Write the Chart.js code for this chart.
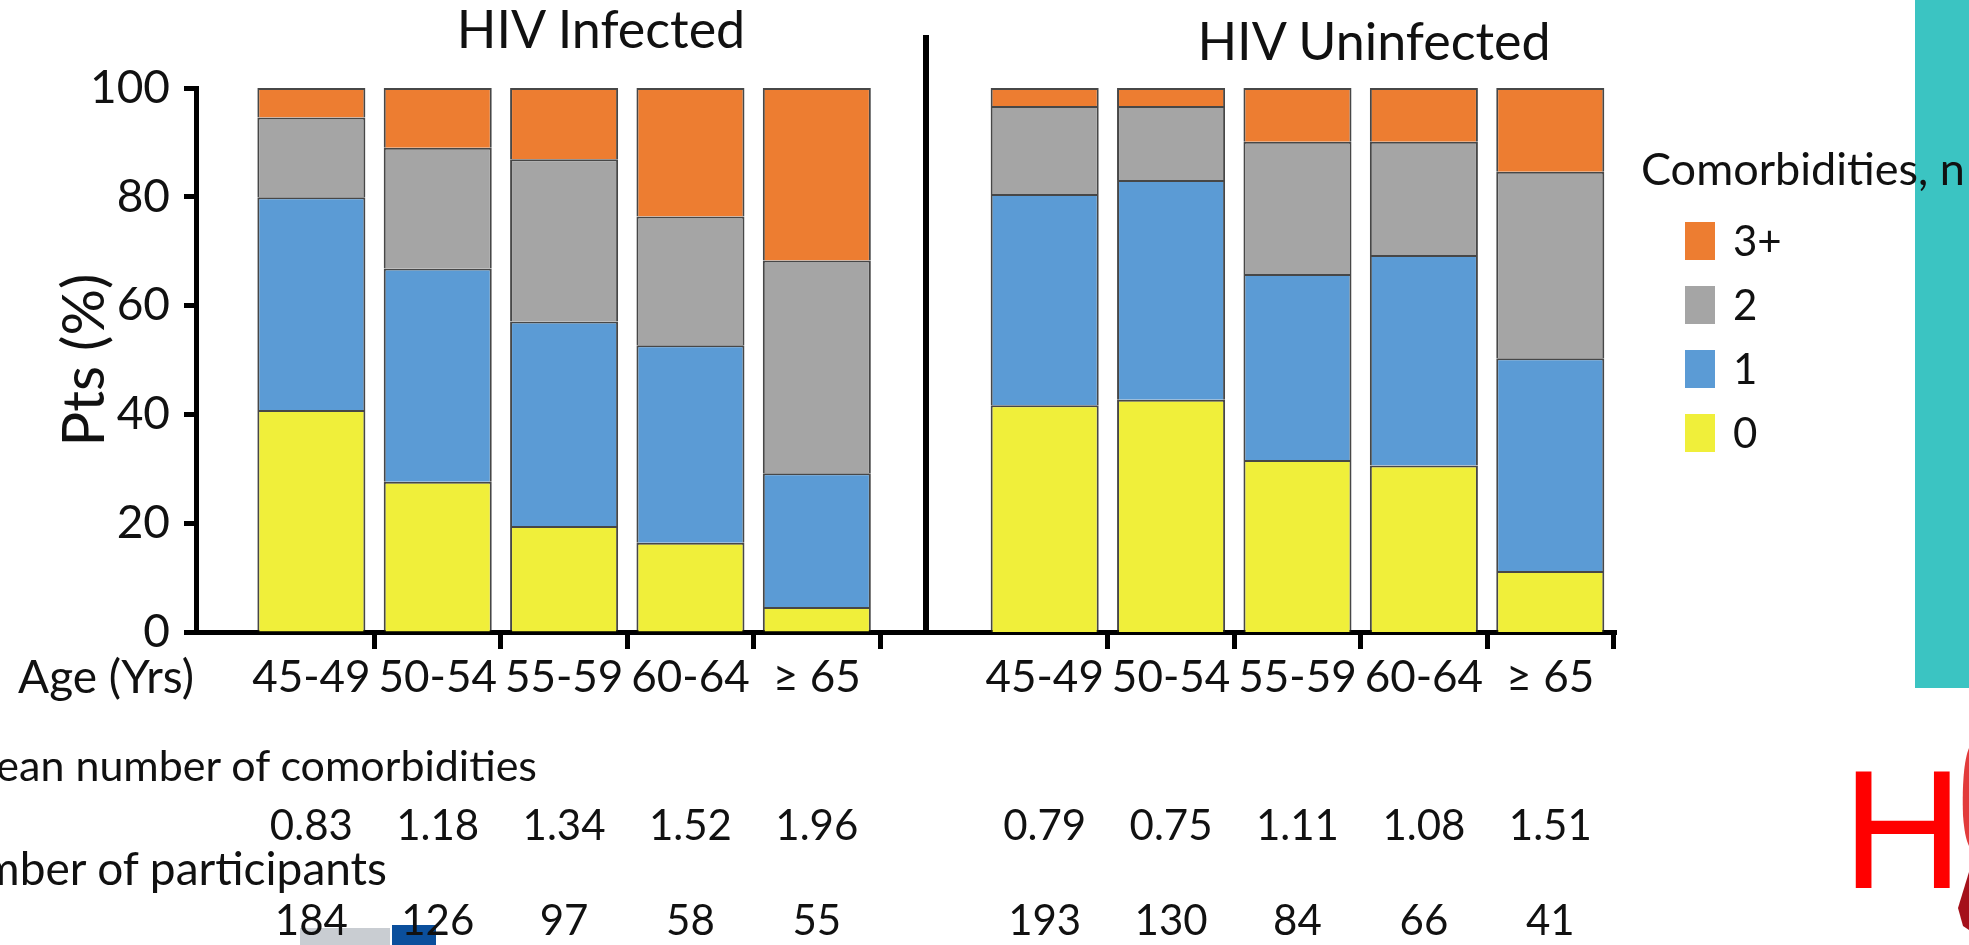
<!DOCTYPE html>
<html>
<head>
<meta charset="utf-8">
<title>Comorbidities by age and HIV status</title>
<script src="https://cdn.jsdelivr.net/npm/chart.js@4.4.1/dist/chart.umd.min.js"></script>
<style>
  html, body { margin: 0; padding: 0; background: #fff; }
  #stage { position: relative; width: 1969px; height: 945px; overflow: hidden; font-family: Lato, sans-serif; color: #111; }
  #stage canvas { position: absolute; left: 0; top: 0; z-index: 1; }
  .txt { position: absolute; white-space: nowrap; line-height: 1; z-index: 2; }
  #teal { position: absolute; left: 1915px; top: 0; width: 54px; height: 688px; background: #3bc4c2; z-index: 0; }
  #logoGrey { position: absolute; left: 300px; top: 928px; width: 90px; height: 20px; background: #c9cdd2; z-index: 0; }
  #logoBlue { position: absolute; left: 392px; top: 925px; width: 44px; height: 22px; background: #0b4f9c; z-index: 0; }
  #legend { position: absolute; left: 1685px; top: 222px; z-index: 2; }
  .item { position: relative; height: 64px; }
  .swatch { position: absolute; left: 0; top: 0; width: 30px; height: 38px; }
  .item span { position: absolute; left: 48px; top: -3px; font-size: 42px; line-height: 1; }
</style>
</head>
<body>
<div id="stage">
  <div id="teal"></div>
  <div id="logoGrey"></div>
  <div id="logoBlue"></div>
  <canvas id="leftChart" width="1969" height="945"></canvas>
  <canvas id="rightChart" width="1969" height="945"></canvas>

  <div class="txt" style="left:601px; top:2px; font-size:52px; transform:translateX(-50%);">HIV Infected</div>
  <div class="txt" style="left:1374px; top:14px; font-size:52px; transform:translateX(-50%);">HIV Uninfected</div>
  <div class="txt" style="left:18px; top:653px; font-size:46px;">Age (Yrs)</div>
  <div class="txt" style="right:1432px; top:743px; font-size:43px;">Mean number of comorbidities</div>
  <div class="txt" style="right:1582px; top:845px; font-size:46px;">Number of participants</div>
  <div class="txt" style="left:1641px; top:146px; font-size:45px;">Comorbidities, n</div>
  <div id="legend"></div>

  <div class="txt" style="left:1842px; top:746px; font-size:168px; font-family:'Liberation Sans', Arial, sans-serif; color:#ff0000;">H</div>
  <svg style="position:absolute; left:1952px; top:740px; z-index:2;" width="17" height="200">
    <path d="M17 8 C12 20 10 45 11 75 C12 90 14 100 17 106 Z" fill="#e23b3b"/>
    <path d="M6 168 L17 132 L17 190 L11 186 Z" fill="#a5101a"/>
  </svg>
</div>

<script>
const ageGroups = ['45-49', '50-54', '55-59', '60-64', '\u2265 65'];
const comorbidityLevels = ['0', '1', '2', '3+'];
const levelColors = ['#f0ef3a', '#5b9bd5', '#a5a5a5', '#ed7d31'];

// % of participants with 0 / 1 / 2 / 3+ comorbidities
const infectedNone = [40.8, 27.6, 19.5, 16.4, 4.6];
const infectedOne = [39.1, 39.2, 37.6, 36.3, 24.6];
const infectedTwo = [14.7, 22.2, 29.8, 23.7, 39.1];
const infectedThreePlus = [5.4, 11.0, 13.1, 23.6, 31.7];

const uninfectedNone = [41.7, 42.7, 31.6, 30.6, 11.2];
const uninfectedOne = [38.8, 40.4, 34.2, 38.7, 39.1];
const uninfectedTwo = [16.2, 13.6, 24.3, 20.8, 34.3];
const uninfectedThreePlus = [3.3, 3.3, 9.9, 9.9, 15.4];

const infectedMeans = ['0.83', '1.18', '1.34', '1.52', '1.96'];
const uninfectedMeans = ['0.79', '0.75', '1.11', '1.08', '1.51'];
const infectedCounts = [184, 126, 97, 58, 55];
const uninfectedCounts = [193, 130, 84, 66, 41];

const yTickStep = 20;

// legend, top row is 3+
const legendBox = document.getElementById('legend');
comorbidityLevels.slice().reverse().forEach(lvl => {
  const k = comorbidityLevels.indexOf(lvl);
  const row = document.createElement('div');
  row.className = 'item';
  row.innerHTML = '<div class="swatch" style="background:' + levelColors[k] + '"></div><span>' + lvl + '</span>';
  legendBox.appendChild(row);
});

function buildDatasets(series){
  return comorbidityLevels.map((lvl, k) => ({
    label: lvl,
    data: series[k].map((v, i) => ({ x: i, y: v })),
    backgroundColor: levelColors[k],
    borderColor: 'rgba(25,25,25,0.8)',
    borderWidth: 2,
    categoryPercentage: 1,
    barPercentage: 0.855
  }));
}

// mean + participant rows under each bar
function rowsPlugin(means, counts){
  return {
    id: 'rows',
    afterDraw(chart){
      const ctx = chart.ctx;
      const x = chart.scales.x;
      ctx.save();
      ctx.fillStyle = '#111';
      ctx.font = '42px Lato';
      ctx.textAlign = 'center';
      ctx.textBaseline = 'alphabetic';
      means.forEach((m, i) => {
        const px = x.getPixelForValue(i);
        ctx.fillText(m, px, 840);
        ctx.fillText(String(counts[i]), px, 935);
      });
      ctx.restore();
    }
  };
}

const divider = {
  id: 'divider',
  afterDraw(chart){
    const { ctx, chartArea } = chart;
    ctx.save();
    ctx.strokeStyle = '#000';
    ctx.lineWidth = 6;
    ctx.beginPath();
    ctx.moveTo(chartArea.left, 35);
    ctx.lineTo(chartArea.left, chartArea.bottom);
    ctx.stroke();
    ctx.restore();
  }
};

function makeChart(id, series, means, counts, side){
  const isLeft = side === 'left';
  const ctx = document.getElementById(id).getContext('2d');
  return new Chart(ctx, {
    type: 'bar',
    data: { datasets: buildDatasets(series) },
    plugins: isLeft ? [rowsPlugin(means, counts)] : [rowsPlugin(means, counts), divider],
    options: {
      responsive: false,
      animation: false,
      events: [],
      layout: {
        padding: isLeft ? { left: 0, top: 88, right: 1043, bottom: 0 } : { left: 926, top: 88, right: 353, bottom: 0 }
      },
      plugins: {
        legend: { display: false },
        tooltip: { enabled: false }
      },
      scales: {
        x: {
          type: 'linear',
          stacked: true,
          offset: false,
          bounds: 'data',
          min: isLeft ? -0.913 : -0.939,
          max: isLeft ? 4.864 : 4.52,
          afterBuildTicks: s => { s.ticks = ageGroups.map((g, i) => ({ value: i })); },
          afterFit: s => { s.height = 313; },
          ticks: {
            callback: v => ageGroups[v],
            autoSkip: false,
            maxRotation: 0,
            padding: 2,
            color: '#111',
            font: { family: 'Lato', size: 44 }
          },
          grid: {
            offset: true,
            drawOnChartArea: false,
            tickLength: 17,
            tickWidth: 5,
            tickColor: c => c.index === 0 ? 'rgba(0,0,0,0)' : '#000'
          },
          border: { color: '#000', width: 5 }
        },
        y: {
          display: isLeft,
          stacked: true,
          min: 0,
          max: 100,
          afterFit: s => { s.width = isLeft ? 196 : 0; },
          ticks: {
            stepSize: yTickStep,
            padding: 14,
            color: '#111',
            font: { family: 'Lato', size: 46 }
          },
          grid: { drawOnChartArea: false, tickLength: 12, tickWidth: 5, tickColor: '#000' },
          border: { color: '#000', width: 5 },
          title: {
            display: true,
            text: 'Pts (%)',
            color: '#111',
            padding: { top: 50, bottom: 0 },
            font: { family: 'Lato', size: 58 }
          }
        }
      }
    }
  });
}

makeChart('leftChart', [infectedNone, infectedOne, infectedTwo, infectedThreePlus], infectedMeans, infectedCounts, 'left');
makeChart('rightChart', [uninfectedNone, uninfectedOne, uninfectedTwo, uninfectedThreePlus], uninfectedMeans, uninfectedCounts, 'right');
</script>
</body>
</html>
